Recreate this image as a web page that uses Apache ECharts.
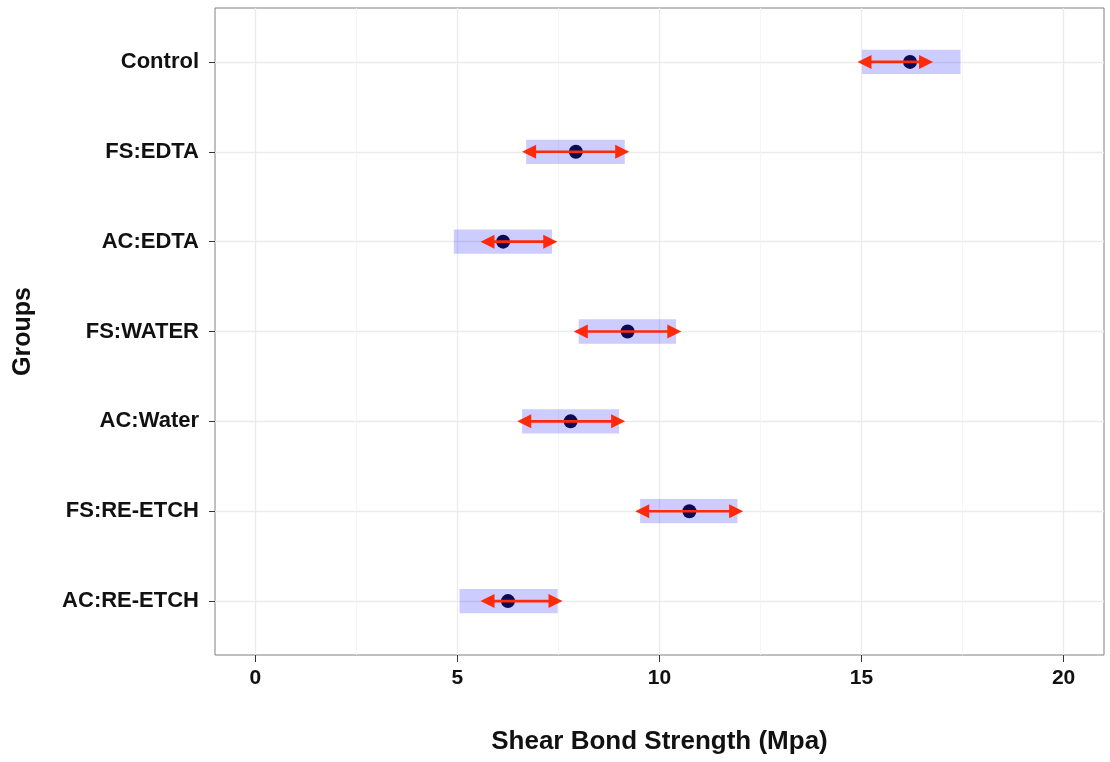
<!DOCTYPE html>
<html lang="en">
<head>
    <meta charset="UTF-8">
    <title>Shear Bond Strength</title>
    <script src="https://cdn.jsdelivr.net/npm/echarts@6.0.0/dist/echarts.min.js"></script>
</head>
<body style="margin:0;background:#fff;">
    <div id="chart" style="width: 1110px; height: 762px;"></div>
    <script>
        // groups, top to bottom
        const groups = ['Control', 'FS:EDTA', 'AC:EDTA', 'FS:WATER', 'AC:Water', 'FS:RE-ETCH', 'AC:RE-ETCH'];
        // mean values (points)
        const means = [16.2, 7.93, 6.13, 9.21, 7.8, 10.74, 6.25];
        // shaded band limits
        const boxLow = [15.01, 6.70, 4.91, 8.0, 6.60, 9.52, 5.05];
        const boxHigh = [17.45, 9.14, 7.34, 10.41, 9.0, 11.93, 7.48];
        // red arrow limits
        const arrowLow = [14.9, 6.60, 5.57, 7.88, 6.48, 9.40, 5.57];
        const arrowHigh = [16.77, 9.25, 7.47, 10.54, 9.15, 12.07, 7.6];
        // x tick labels
        const xTicks = [0, 5, 10, 15, 20];
        const xMinor = [2.5, 7.5, 12.5, 17.5];

        const RED = '#ff2a0a';
        const FONT = '"Liberation Sans", Arial, sans-serif';
        const yIdx = groups.map((g, i) => i);

        var myChart = echarts.init(document.getElementById('chart'));

        function renderBox(params, api) {
            var y = api.value(2);
            var p1 = api.coord([api.value(0), y]);
            var p2 = api.coord([api.value(1), y]);
            var h = api.size([0, 0.27])[1];
            return {
                type: 'rect',
                shape: { x: p1[0], y: p1[1] - h / 2, width: p2[0] - p1[0], height: h },
                style: { fill: 'rgba(0,0,255,0.2)' }
            };
        }

        function renderArrow(params, api) {
            var y = api.value(2);
            var p1 = api.coord([api.value(0), y]);
            var p2 = api.coord([api.value(1), y]);
            var L = 14, W = 7;
            return {
                type: 'group',
                children: [
                    { type: 'line', shape: { x1: p1[0] + L * 0.7, y1: p1[1], x2: p2[0] - L * 0.7, y2: p2[1] },
                      style: { stroke: RED, lineWidth: 2.6 } },
                    { type: 'polygon', shape: { points: [[p1[0], p1[1]], [p1[0] + L, p1[1] - W], [p1[0] + L, p1[1] + W]] },
                      style: { fill: RED } },
                    { type: 'polygon', shape: { points: [[p2[0], p2[1]], [p2[0] - L, p2[1] - W], [p2[0] - L, p2[1] + W]] },
                      style: { fill: RED } }
                ]
            };
        }

        const option = {
            backgroundColor: '#fff',
            animation: false,
            grid: {
                left: 215, right: 6, top: 8, bottom: 107,
                show: true, borderColor: '#808080', borderWidth: 1,
                containLabel: false, outerBoundsMode: 'none'
            },
            xAxis: [{
                type: 'value', min: -1, max: 21,
                name: 'Shear Bond Strength (Mpa)',
                nameLocation: 'middle', nameGap: 74,
                nameTextStyle: { fontFamily: FONT, fontWeight: 'bold', fontSize: 26, color: '#111' },
                axisLine: { show: false, onZero: false },
                axisTick: { show: true, customValues: xTicks, length: 7, lineStyle: { color: '#333', width: 1 } },
                axisLabel: { customValues: xTicks, margin: 13, fontFamily: FONT, fontWeight: 'bold', fontSize: 21, color: '#111' },
                splitLine: { show: true, lineStyle: { color: '#ebebeb', width: 1.3 } }
            }, {
                type: 'value', min: -1, max: 21, position: 'bottom',
                axisLine: { show: false, onZero: false },
                axisTick: { show: false, customValues: xMinor },
                axisLabel: { show: false, customValues: xMinor },
                splitLine: { show: true, lineStyle: { color: '#f3f3f3', width: 0.8 } }
            }],
            yAxis: {
                type: 'value', min: -0.6, max: 6.6, inverse: true,
                name: 'Groups', nameLocation: 'middle', nameGap: 179, nameRotate: 90,
                nameTextStyle: { fontFamily: FONT, fontWeight: 'bold', fontSize: 25, color: '#111' },
                axisLine: { show: false, onZero: false },
                axisTick: { show: true, customValues: yIdx, length: 6, lineStyle: { color: '#333', width: 1 } },
                axisLabel: {
                    customValues: yIdx, margin: 16,
                    formatter: v => groups[Math.round(v)],
                    fontFamily: FONT, fontWeight: 'bold', fontSize: 22, color: '#111'
                },
                splitLine: { show: true, lineStyle: { color: '#ebebeb', width: 1.3 } }
            },
            series: [
                {
                    type: 'custom', name: 'band', z: 2,
                    renderItem: renderBox,
                    encode: { x: [0, 1], y: 2 },
                    data: groups.map((g, i) => [boxLow[i], boxHigh[i], i])
                },
                {
                    type: 'scatter', name: 'mean', z: 3,
                    symbolSize: 14,
                    itemStyle: { color: '#0a0a55', opacity: 1 },
                    data: groups.map((g, i) => [means[i], i])
                },
                {
                    type: 'custom', name: 'arrow', z: 4,
                    renderItem: renderArrow,
                    encode: { x: [0, 1], y: 2 },
                    data: groups.map((g, i) => [arrowLow[i], arrowHigh[i], i])
                }
            ]
        };

        myChart.setOption(option);
    </script>
</body>
</html>
